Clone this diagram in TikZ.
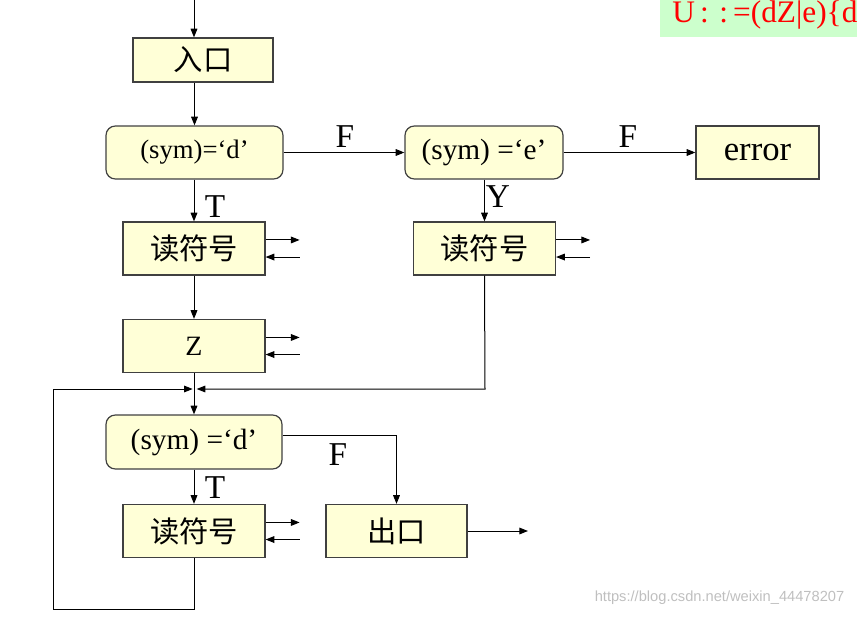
\documentclass[tikz,border=0pt]{standalone}
\usepackage{fontspec}
\setmainfont{Liberation Serif}
\newfontfamily\cjk{Noto Sans CJK SC}
\newfontfamily\wmfont{Liberation Sans}
\usetikzlibrary{arrows.meta}
\definecolor{boxfill}{HTML}{FFFFD7}
\definecolor{boxline}{HTML}{404040}
\definecolor{notegreen}{HTML}{CCFFCC}
\tikzset{
  blk/.style={draw=boxline,fill=boxfill,line width=0.9pt,inner sep=0pt,
    minimum width=106.5pt,minimum height=39.75pt},
  test/.style={blk,rounded corners=7pt,minimum width=132.75pt},
  lbl/.style={font=\fontsize{25}{25}\selectfont},
  flow/.style={line width=0.75pt,-{Triangle[length=6.5pt,width=5pt]}},
}
\begin{document}
\begin{tikzpicture}[x=0.75pt,y=-0.75pt]
  \useasboundingbox (0,0) rectangle (857,617);
  % note in the corner
  \begin{scope}
    \clip (0,0) rectangle (857,617);
    \fill[notegreen] (660,0) rectangle (857,37);
    \node[anchor=west,text=red,inner sep=0pt,font=\fontsize{23.5}{23.5}\selectfont]
      (note) at (672,15) {U\,:\,\,:\,=(dZ|e)\{d};
  \end{scope}
  % boxes
  \coordinate (top) at (194,0);
  \node[blk,minimum width=105pt,minimum height=33pt] (in) at (203,60)
    {\cjk\fontsize{22}{22}\selectfont 入口};
  \node[test,font=\fontsize{20}{20}\selectfont] (d1) at (194.5,152.5) {\raisebox{-1.5pt}{(sym)=‘d’}};
  \node[test,minimum width=118.5pt,font=\fontsize{22}{22}\selectfont] (e1) at (484,152.5) {\raisebox{-1.5pt}{(sym) =‘e’}};
  \node[blk,minimum width=92.25pt,font=\fontsize{26}{26}\selectfont] (err) at (757.5,152.5) {\raisebox{-3pt}{error}};
  \node[blk] (r1) at (194,248.5) {\cjk\fontsize{22}{22}\selectfont 读符号};
  \node[blk] (r2) at (484.5,248.5) {\cjk\fontsize{22}{22}\selectfont 读符号};
  \node[blk,font=\fontsize{21}{21}\selectfont] (z) at (194,346) {\raisebox{-1.5pt}{Z}};
  \coordinate (j) at (194,389);
  \node[test,minimum width=132pt,minimum height=40.5pt,font=\fontsize{22}{22}\selectfont]
    (d2) at (194,442) {\raisebox{-1.5pt}{(sym) =‘d’}};
  \node[blk] (r3) at (194,531) {\cjk\fontsize{22}{22}\selectfont 读符号};
  \node[blk,minimum width=105.75pt] (out) at (396.5,531) {\cjk\fontsize{22}{22}\selectfont 出口};
  \coordinate (exit) at (528,531);
  \coordinate (back) at (485,389);
  \coordinate (loopa) at (194,609);
  \coordinate (loopb) at (53,609);
  \coordinate (loopc) at (53,389);
  % labels
  \node[lbl] (f1) at (345,137) {F};
  \node[lbl] (f2) at (628,137) {F};
  \node[lbl] (t1) at (215,207) {T};
  \node[lbl] (y1) at (498,197) {Y};
  \node[lbl] (f3) at (338,455) {F};
  \node[lbl] (t2) at (215,488) {T};
  % connectors
  \begin{scope}[flow]
    \draw (top) -- (top |- in.north);
    \draw (in.south -| d1.north) -- (d1.north);
    \draw (d1) -- (e1);
    \draw (e1) -- (err);
    \draw (d1.south -| r1.north) -- (r1.north);
    \draw (e1.south -| r2.north) -- (r2.north);
    \draw (r1) -- (z);
    \draw (z) -- (d2);
    \draw (r2.south) -- (back) -- ([xshift=2pt]j);
    \draw (r3.south) -- (loopa) -- (loopb) -- (loopc) -- ([xshift=-1pt]j);
    \draw ([yshift=5.25pt]d2.east) -| (out.north);
    \draw (d2) -- (r3);
    \draw (out) -- (exit);
    \foreach \n in {r1,r2,z,r3} {
      \draw ([yshift=6.4pt]\n.east) -- ++(34,0);
      \draw ([yshift=-6.4pt]\n.east) ++(34,0) -- ([yshift=-6.4pt]\n.east);
    }
  \end{scope}
  % watermark
  \node[text=black!25,font=\wmfont\fontsize{11}{11}\selectfont,anchor=east]
    (wm) at (849,598) {https://blog.csdn.net/weixin\_44478207};
\end{tikzpicture}
\end{document}
